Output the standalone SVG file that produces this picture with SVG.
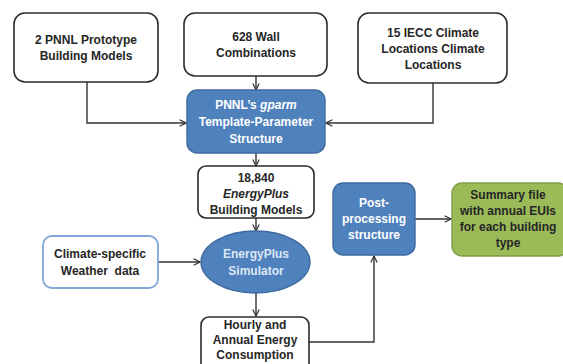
<svg xmlns="http://www.w3.org/2000/svg" width="563" height="364" viewBox="0 0 563 364">
<style>
.wb{fill:#fff;stroke:#2b2b2b;stroke-width:1.6}
.bb{fill:#4f81bd;stroke:#3d6a9e;stroke-width:1.4}
.gb{fill:#9bbb59;stroke:#7f9c45;stroke-width:1.4}
.cb{fill:#fff;stroke:#7fa7d8;stroke-width:1.8}
text{font-family:"Liberation Sans",Arial,sans-serif;font-size:12px;font-weight:bold;text-anchor:middle;dominant-baseline:central}
.dk{fill:#262626}
.wt{fill:#fff}
.lt{fill:#dde8f5}
.cn{fill:none;stroke:#333;stroke-width:1.4}
</style>
<defs>
<marker id="ah" viewBox="0 0 10 10" refX="9" refY="5" markerWidth="8" markerHeight="8" markerUnits="userSpaceOnUse" orient="auto">
<path d="M1,1 L9,5 L1,9" fill="none" stroke="#333" stroke-width="1.5"/>
</marker>
</defs>
<g id="connectors">
<path class="cn" d="M87,82 V123 H186" marker-end="url(#ah)"/>
<path class="cn" d="M256,76 V90" marker-end="url(#ah)"/>
<path class="cn" d="M433,83 V123 H326" marker-end="url(#ah)"/>
<path class="cn" d="M256,153 V166" marker-end="url(#ah)"/>
<path class="cn" d="M256,218 V231" marker-end="url(#ah)"/>
<path class="cn" d="M158,262 H200" marker-end="url(#ah)"/>
<path class="cn" d="M256,293 V316" marker-end="url(#ah)"/>
<path class="cn" d="M309,342 H374 V256" marker-end="url(#ah)"/>
<path class="cn" d="M415,219 H451" marker-end="url(#ah)"/>
</g>
<g id="prototype">
<rect class="wb" x="14" y="13" width="144" height="69" rx="11"/>
<text class="dk" x="86" y="40">2 PNNL Prototype</text>
<text class="dk" x="86" y="56">Building Models</text>
</g>
<g id="wall">
<rect class="wb" x="184" y="13" width="143" height="63" rx="11"/>
<text class="dk" x="256" y="37">628 Wall</text>
<text class="dk" x="256" y="53">Combinations</text>
</g>
<g id="climate-locations">
<rect class="wb" x="358" y="13" width="149" height="70" rx="11"/>
<text class="dk" x="433" y="33">15 IECC Climate</text>
<text class="dk" x="433" y="49">Locations Climate</text>
<text class="dk" x="433" y="65">Locations</text>
</g>
<g id="gparm">
<rect class="bb" x="187" y="90" width="138" height="63" rx="10"/>
<text class="wt" x="256" y="105">PNNL’s <tspan font-style="italic">gparm</tspan></text>
<text class="wt" x="256" y="122">Template-Parameter</text>
<text class="wt" x="256" y="139">Structure</text>
</g>
<g id="models">
<rect class="wb" x="198" y="166" width="116" height="52" rx="8"/>
<text class="dk" x="256" y="178">18,840</text>
<text class="dk" x="256" y="194" font-style="italic">EnergyPlus</text>
<text class="dk" x="256" y="210">Building Models</text>
</g>
<g id="weather">
<rect class="cb" x="43" y="236" width="115" height="52" rx="9"/>
<text class="dk" x="100" y="254">Climate-specific</text>
<text class="dk" x="100" y="271" xml:space="preserve">Weather  data</text>
</g>
<g id="simulator">
<ellipse class="bb" cx="255.5" cy="262" rx="54.5" ry="31"/>
<text class="lt" x="256" y="254">EnergyPlus</text>
<text class="lt" x="256" y="271">Simulator</text>
</g>
<g id="consumption">
<rect class="wb" x="201" y="317" width="108" height="60" rx="8"/>
<text class="dk" x="255" y="325">Hourly and</text>
<text class="dk" x="255" y="340">Annual Energy</text>
<text class="dk" x="255" y="355">Consumption</text>
</g>
<g id="postprocessing">
<rect class="bb" x="333" y="183" width="82" height="72" rx="10"/>
<text class="wt" x="374" y="203">Post-</text>
<text class="wt" x="374" y="219">processing</text>
<text class="wt" x="374" y="235">structure</text>
</g>
<g id="summary">
<rect class="gb" x="452" y="183" width="116" height="73" rx="10"/>
<text class="dk" x="508" y="195">Summary file</text>
<text class="dk" x="508" y="211">with annual EUIs</text>
<text class="dk" x="508" y="227">for each building</text>
<text class="dk" x="508" y="243">type</text>
</g>
</svg>
